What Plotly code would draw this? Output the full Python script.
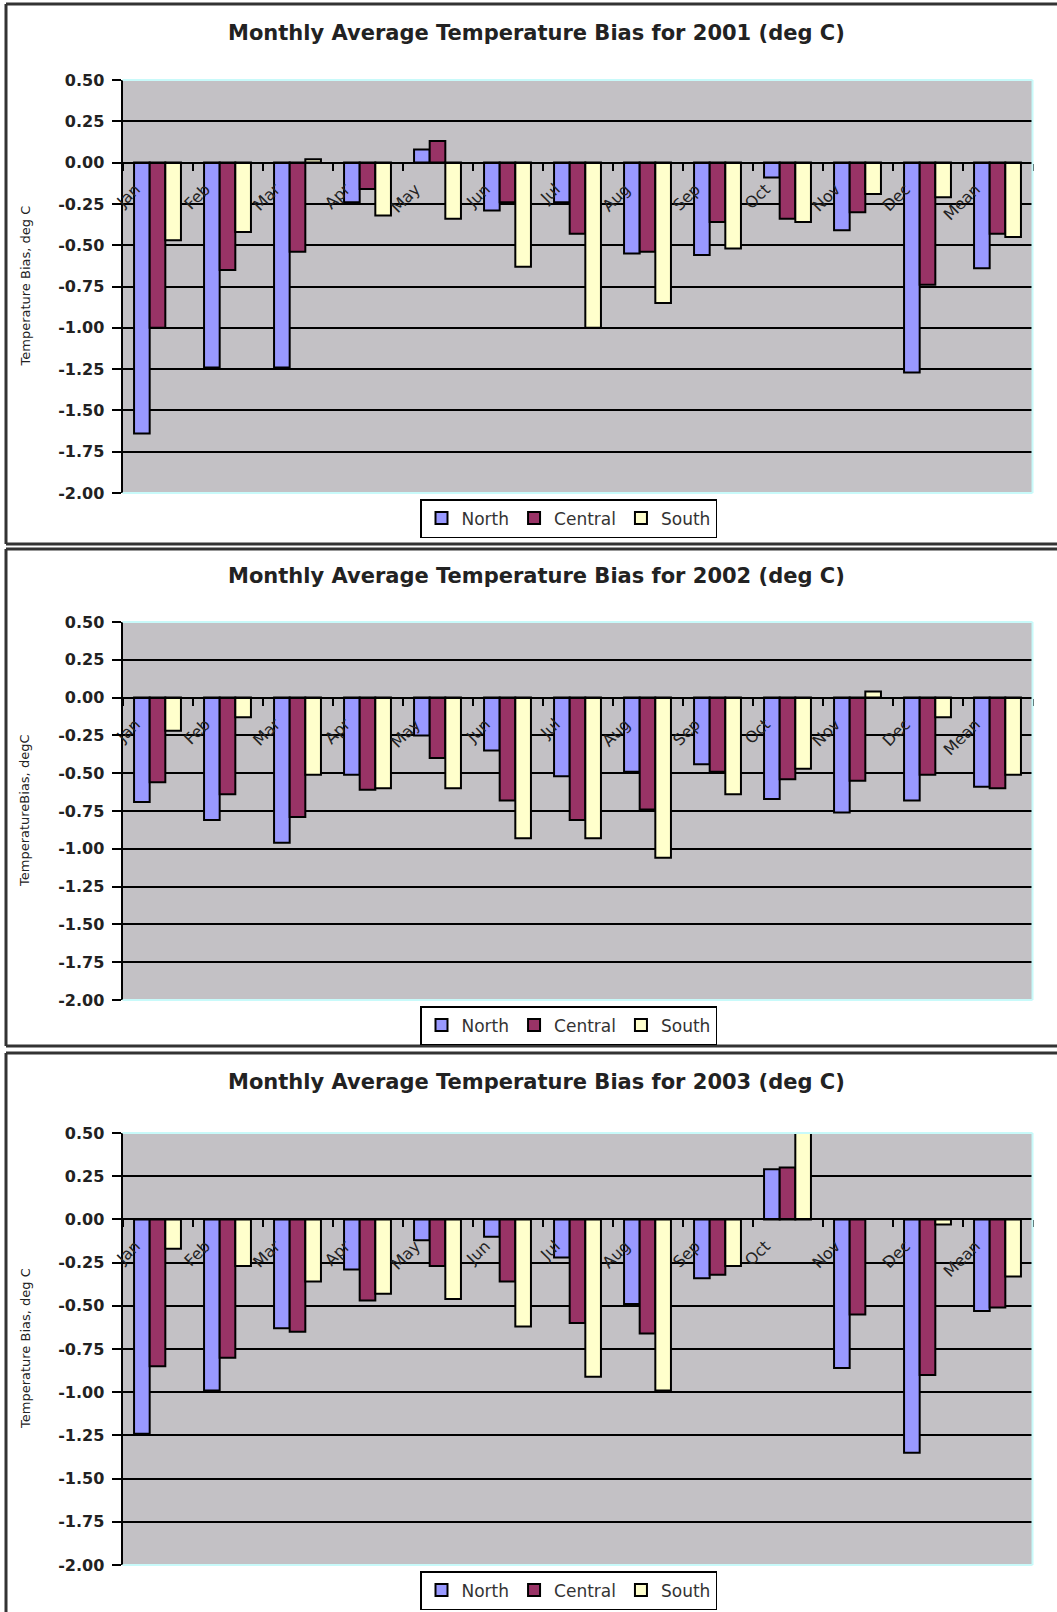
import plotly.graph_objects as go

# ---- data -------------------------------------------------------------
months = ["Jan", "Feb", "Mar", "Apr", "May", "Jun", "Jul", "Aug", "Sep",
          "Oct", "Nov", "Dec", "Mean"]
years = ["2001", "2002", "2003"]

north_2001 = [-1.64, -1.24, -1.24, -0.24, 0.08, -0.29, -0.24, -0.55, -0.56, -0.09, -0.41, -1.27, -0.64]
central_2001 = [-1.00, -0.65, -0.54, -0.16, 0.13, -0.24, -0.43, -0.54, -0.36, -0.34, -0.30, -0.74, -0.43]
south_2001 = [-0.47, -0.42, 0.02, -0.32, -0.34, -0.63, -1.00, -0.85, -0.52, -0.36, -0.19, -0.21, -0.45]

north_2002 = [-0.69, -0.81, -0.96, -0.51, -0.25, -0.35, -0.52, -0.49, -0.44, -0.67, -0.76, -0.68, -0.59]
central_2002 = [-0.56, -0.64, -0.79, -0.61, -0.40, -0.68, -0.81, -0.74, -0.49, -0.54, -0.55, -0.51, -0.60]
south_2002 = [-0.22, -0.13, -0.51, -0.60, -0.60, -0.93, -0.93, -1.06, -0.64, -0.47, 0.04, -0.13, -0.51]

north_2003 = [-1.24, -0.99, -0.63, -0.29, -0.12, -0.10, -0.22, -0.49, -0.34, 0.29, -0.86, -1.35, -0.53]
central_2003 = [-0.85, -0.80, -0.65, -0.47, -0.27, -0.36, -0.60, -0.66, -0.32, 0.30, -0.55, -0.90, -0.51]
south_2003 = [-0.17, -0.27, -0.36, -0.43, -0.46, -0.62, -0.91, -0.99, -0.27, 0.52, None, -0.03, -0.33]

series_names = ["North", "Central", "South"]
series_colors = ["#9999FF", "#993366", "#FFFFCC"]

y_title_text = ["Temperature Bias, deg C", "TemperatureBias, degC", "Temperature Bias, deg C"]
y_tick_vals = [0.50, 0.25, 0.00, -0.25, -0.50, -0.75, -1.00, -1.25, -1.50, -1.75, -2.00]
y_tick_text = ["%.2f" % v for v in y_tick_vals]
y_range = [-2.0, 0.5]

data_by_year = [
    [north_2001, central_2001, south_2001],
    [north_2002, central_2002, south_2002],
    [north_2003, central_2003, south_2003],
]

# ---- page geometry (pixels) ---------------------------------------------
W, H = 1057, 1612
PLOT_L, PLOT_R = 122.5, 1032.5
FRAME_L = 6
panels = [
    dict(top=80, bot=493, title=33, legend=499, frame=(4, 544)),
    dict(top=622, bot=1000, title=576, legend=1006, frame=(549, 1046)),
    dict(top=1133, bot=1565, title=1082, legend=1571, frame=(1053, None)),
]


def px_x(v):
    return v / W


def px_y(v):
    return 1 - v / H


FONT = "DejaVu Sans"
fig = go.Figure()
shapes, annotations = [], []

for i, (year, values, p) in enumerate(zip(years, data_by_year, panels)):
    n = i + 1
    xa = "x" if n == 1 else "x%d" % n
    ya = "y" if n == 1 else "y%d" % n
    leg = "legend" if n == 1 else "legend%d" % n

    for name, color, vals in zip(series_names, series_colors, values):
        fig.add_trace(go.Bar(
            x=months, y=vals, name=name, xaxis=xa, yaxis=ya, legend=leg,
            marker=dict(color=color, line=dict(color="black", width=2)),
            hoverinfo="x+y+name",
        ))

    ydom = [px_y(p["bot"]), px_y(p["top"])]
    zero_frac = (0 - y_range[0]) / (y_range[1] - y_range[0])
    x_pos = ydom[0] + zero_frac * (ydom[1] - ydom[0])

    xkey = "xaxis" if n == 1 else "xaxis%d" % n
    ykey = "yaxis" if n == 1 else "yaxis%d" % n
    fig.update_layout(**{
        xkey: dict(
            domain=[px_x(PLOT_L), px_x(PLOT_R)], anchor="free", position=x_pos,
            type="category", categoryorder="array", categoryarray=months,
            showline=True, linecolor="black", linewidth=2,
            ticks="outside", tickson="boundaries", ticklen=7, tickwidth=1.5,
            tickcolor="black", tickangle=-45, showgrid=False, zeroline=False,
            tickfont=dict(family=FONT, size=16, color="#222"),
            ticklabelshift=-22, ticklabelstandoff=10,
            automargin=False, fixedrange=True,
        ),
        ykey: dict(
            domain=ydom, anchor=xa, range=y_range,
            tickmode="array", tickvals=y_tick_vals, ticktext=y_tick_text,
            showline=True, linecolor="black", linewidth=2,
            ticks="outside", ticklen=9, tickwidth=1.5, tickcolor="black",
            showgrid=True, gridcolor="black", gridwidth=1.5, zeroline=False,
            tickfont=dict(family=FONT, size=16, color="#222", weight="bold"),
            ticklabelstandoff=4, automargin=False, fixedrange=True,
        ),
        leg: dict(
            x=px_x(420), y=px_y(p["legend"]), xanchor="left", yanchor="top",
            orientation="h", bgcolor="white", bordercolor="black", borderwidth=1.5,
            font=dict(family=FONT, size=17, color="#333"),
            traceorder="normal", itemwidth=30,
        ),
    })

    # light cyan rim on the top, right and bottom edges of the plotting area
    for (ax0, ay0, ax1, ay1) in [(0, 1, 1, 1), (1, 0, 1, 1), (0, 0, 1, 0)]:
        shapes.append(dict(
            type="line", xref="%s domain" % xa, yref="%s domain" % ya,
            x0=ax0, y0=ay0, x1=ax1, y1=ay1, layer="above",
            line=dict(color="#C8FAFA", width=2),
        ))

    # chart frame: left, top and (when on the page) bottom edges
    f_top, f_bot = p["frame"]
    f_bot_y = px_y(f_bot) if f_bot is not None else 0
    frame_lines = [
        (px_x(FRAME_L), f_bot_y, px_x(FRAME_L), px_y(f_top)),
        (px_x(FRAME_L), px_y(f_top), 1, px_y(f_top)),
    ]
    if f_bot is not None:
        frame_lines.append((px_x(FRAME_L), f_bot_y, 1, f_bot_y))
    for (fx0, fy0, fx1, fy1) in frame_lines:
        shapes.append(dict(
            type="line", xref="paper", yref="paper",
            x0=fx0, y0=fy0, x1=fx1, y1=fy1, layer="above",
            line=dict(color="#333333", width=3),
        ))

    annotations.append(dict(
        text="Monthly Average Temperature Bias for %s (deg C)" % year,
        xref="paper", yref="paper", x=px_x(536), y=px_y(p["title"]),
        xanchor="center", yanchor="middle", showarrow=False,
        font=dict(family=FONT, size=21, color="#222", weight="bold"),
    ))
    annotations.append(dict(
        text=y_title_text[i], textangle=-90,
        xref="paper", yref="paper", x=px_x(25), y=(ydom[0] + ydom[1]) / 2,
        xanchor="center", yanchor="middle", showarrow=False,
        font=dict(family=FONT, size=13, color="#222"),
    ))

fig.update_layout(
    width=W, height=H, margin=dict(l=0, r=0, t=0, b=0, autoexpand=False),
    paper_bgcolor="white", plot_bgcolor="#C3C1C5",
    barmode="group", bargap=0.33, bargroupgap=0,
    shapes=shapes, annotations=annotations, showlegend=True,
)

fig.write_html("out.html")
